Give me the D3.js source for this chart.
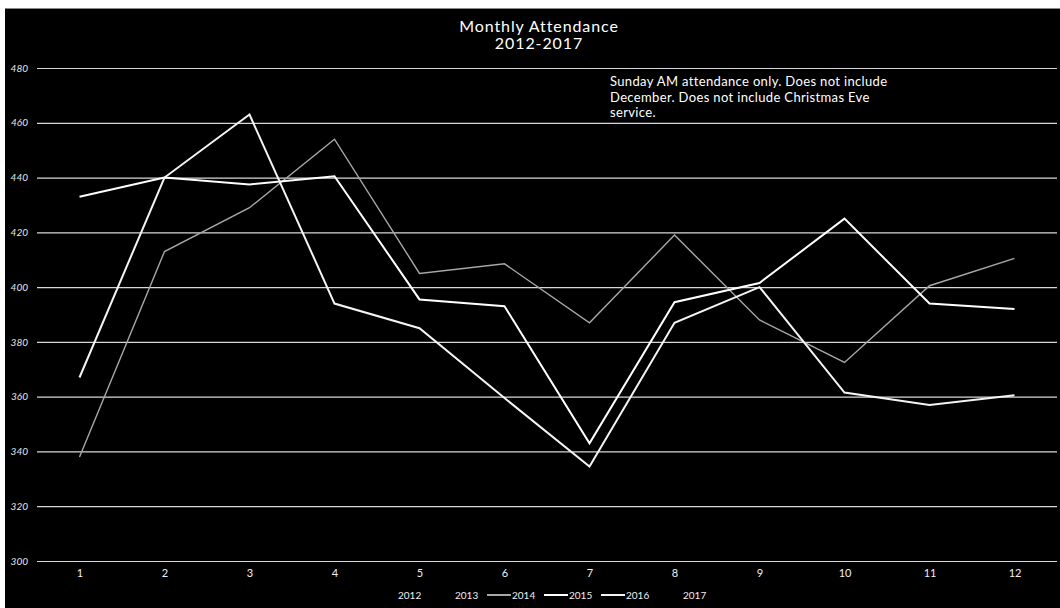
<!DOCTYPE html>
<html>
<head>
<meta charset="utf-8">
<script src="https://cdn.jsdelivr.net/npm/d3@7"></script>
<style>
  html, body { margin: 0; padding: 0; background: #ffffff; }
  svg { display: block; }
  text { font-family: Lato, "Open Sans", sans-serif; }
</style>
</head>
<body>
<script>
// ---- data ----
const months = ["1","2","3","4","5","6","7","8","9","10","11","12"];
const yTicks = [300, 320, 340, 360, 380, 400, 420, 440, 460, 480];
const seriesNames = ["2012", "2013", "2014", "2015", "2016", "2017"];
const values2014 = [338, 413, 429, 454, 405, 408.5, 387, 419, 388, 372.5, 400.5, 410.5];
const values2015 = [433, 440, 437.5, 440.5, 395.5, 393, 343, 394.5, 401.5, 425, 394, 392];
const values2016 = [367, 440, 463, 394, 385, 359.5, 334.5, 387, 400, 361.5, 357, 360.5];
const titleLines = ["Monthly Attendance", "2012-2017"];
const noteLines = ["Sunday AM attendance only. Does not include",
                   "December. Does not include Christmas Eve",
                   "service."];

// ---- layout ----
const W = 1060, H = 608;
const plot = { left: 37, right: 1057, top: 68, bottom: 561 };

const svg = d3.select("body").append("svg").attr("width", W).attr("height", H);
svg.append("rect").attr("x", 0).attr("y", 0).attr("width", W).attr("height", H).attr("fill", "#ffffff");
svg.append("rect").attr("x", 5).attr("y", 8).attr("width", W - 5).attr("height", H - 8).attr("fill", "#000000");
svg.append("line").attr("x1", 5).attr("x2", W).attr("y1", 8.5).attr("y2", 8.5).attr("stroke", "#888").attr("stroke-width", 1);

const x = d3.scalePoint().domain(months).range([plot.left, plot.right]).padding(0.5);
const y = d3.scaleLinear().domain([300, 480]).range([plot.bottom, plot.top]);

// gridlines + y labels
const yAxis = d3.axisLeft(y).tickValues(yTicks).tickSize(-(plot.right - plot.left)).tickPadding(9).tickFormat(d3.format("d"));
const gy = svg.append("g").attr("transform", `translate(${plot.left},0)`).call(yAxis);
gy.select(".domain").remove();
gy.selectAll(".tick line").attr("stroke", "#d8d8d8").attr("stroke-width", 1.2);
gy.selectAll(".tick text").attr("fill", "#e8e8e8").attr("font-size", 10).attr("font-style", "italic");

// x labels
const xAxis = d3.axisBottom(x).tickSize(0).tickPadding(8);
const gx = svg.append("g").attr("transform", `translate(0,${plot.bottom})`).call(xAxis);
gx.select(".domain").remove();
gx.selectAll(".tick text").attr("fill", "#f0f0f0").attr("font-size", 11);

// lines
const lineGen = d3.line().x((d, i) => x(months[i])).y(d => y(d));
const drawn = [
  { name: "2014", values: values2014, color: "#a8a8a8", width: 1.4 },
  { name: "2015", values: values2015, color: "#ffffff", width: 2 },
  { name: "2016", values: values2016, color: "#f4f4f4", width: 2 }
];
drawn.forEach(s => {
  svg.append("path").datum(s.values)
    .attr("d", lineGen)
    .attr("fill", "none")
    .attr("stroke", s.color)
    .attr("stroke-width", s.width)
    .attr("stroke-linejoin", "miter");
});

// title
svg.append("g").selectAll("text").data(titleLines).join("text")
  .attr("x", 539).attr("y", (d, i) => 32 + i * 17)
  .attr("text-anchor", "middle")
  .attr("fill", "#ffffff").attr("font-size", 16).attr("letter-spacing", 0.9)
  .text(d => d);

// note
svg.append("g").selectAll("text").data(noteLines).join("text")
  .attr("x", 610).attr("y", (d, i) => 86 + i * 15.5)
  .attr("fill", "#ffffff").attr("font-size", 13).attr("letter-spacing", 0.35)
  .text(d => d);

// legend
const legendColor = { "2012": "#000000", "2013": "#000000", "2014": "#a8a8a8", "2015": "#ffffff", "2016": "#f4f4f4", "2017": "#000000" };
const lg = svg.append("g").selectAll("g").data(seriesNames).join("g")
  .attr("transform", (d, i) => `translate(${373 + i * 57},595)`);
lg.append("line").attr("x1", 0).attr("x2", 24).attr("y1", 0).attr("y2", 0)
  .attr("stroke", d => legendColor[d]).attr("stroke-width", 2);
lg.append("text").attr("x", 25).attr("y", 3.5)
  .attr("fill", "#f0f0f0").attr("font-size", 10).text(d => d);
</script>
</body>
</html>
